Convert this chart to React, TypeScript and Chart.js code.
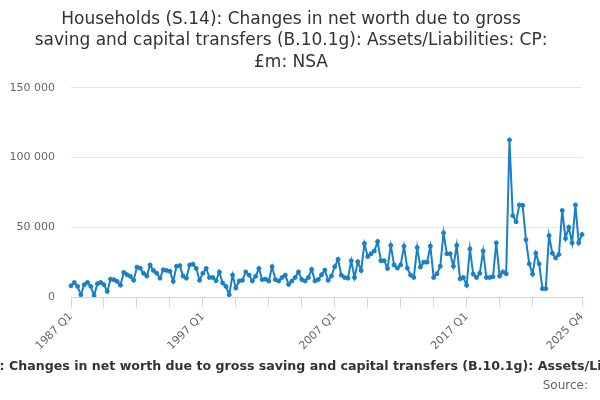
import { useEffect, useRef } from 'react';
import { Chart, registerables } from 'chart.js';

Chart.register(...registerables);

const firstYear = 1987;
const lastYear = 2025;
const quarters = ['Q1', 'Q2', 'Q3', 'Q4'];

const labels: string[] = [];
for (let y = firstYear; y <= lastYear; y++) {
  for (const q of quarters) labels.push(`${y} ${q}`);
}

// £m, quarterly, 1987 Q1 .. 2025 Q4
const netWorthChange = [
  8000, 10400, 7600, 1600,
  8800, 10400, 7600, 1000,
  9500, 10400, 8800, 4000,
  12800, 12400, 11200, 8500,
  17600, 16000, 14800, 12000,
  21400, 20700, 17000, 15000,
  23000, 19000, 17000, 13500,
  19500, 19000, 18500, 11200,
  22000, 22500, 15000, 13500,
  23000, 23500, 20500, 12000,
  17000, 20500, 14000, 14000,
  11700, 18000, 10000, 7600,
  1700, 15700, 6400, 11500,
  12000, 18000, 15700, 11500,
  14800, 20500, 12500, 12800,
  11500, 21700, 12500, 11500,
  14000, 15700, 9000, 11500,
  14000, 18000, 12500, 11500,
  14000, 19800, 11500, 12500,
  16000, 19300, 12000, 15000,
  21700, 27000, 15700, 14000,
  13500, 26000, 14000, 25300,
  19000, 38300, 29000, 31000,
  33000, 39700, 26000, 26000,
  20500, 37000, 23000, 20700,
  23000, 36400, 20700, 15700,
  14000, 35500, 21500, 25000,
  25000, 36400, 14000, 16700,
  22000, 46000, 31000, 31000,
  22000, 37000, 13000, 14000,
  8400, 34500, 16400, 14000,
  17000, 32900, 14000, 14000,
  14500, 38800, 15000, 18000,
  16600, 112600, 58300, 54000,
  66000, 65700, 41000, 23800,
  16400, 31400, 23800, 6000,
  6000, 44000, 31400, 28000,
  30500, 62000, 42000, 50000,
  38800, 66000, 38800, 44800,
];

const xTickIndexes = [0, 10, 20, 30, 40, 50, 60, 70, 80, 90, 100, 110, 120, 130, 140, 155];
const xLabelIndexes = [0, 40, 80, 120, 155];
const yMax = 150000;
const yStep = 50000;

const titleLines = [
  'Households (S.14): Changes in net worth due to gross',
  'saving and capital transfers (B.10.1g): Assets/Liabilities: CP:',
  '£m: NSA',
];
const caption =
  'Households (S.14): Changes in net worth due to gross saving and capital transfers (B.10.1g): Assets/Liabilities: CP: £m: NSA';
const source = 'Source:';

const FONT = '"DejaVu Sans", Verdana, sans-serif';

const captionPlugin = {
  id: 'caption',
  afterDraw(chart: any) {
    const { ctx } = chart;
    ctx.save();
    ctx.textBaseline = 'middle';
    ctx.font = `bold 12.6px ${FONT}`;
    ctx.fillStyle = '#333333';
    ctx.textAlign = 'center';
    ctx.fillText(caption, chart.width / 2 + 13, chart.height - 33);
    ctx.font = `12px ${FONT}`;
    ctx.fillStyle = '#666666';
    ctx.textAlign = 'right';
    ctx.fillText(source, chart.width - 12, chart.height - 14);
    ctx.restore();
  },
};

const spaced = (v: number) => String(v).replace(/\B(?=(\d{3})+(?!\d))/g, ' ');

function NetWorthChart() {
  const canvasRef = useRef<HTMLCanvasElement>(null);

  useEffect(() => {
    if (!canvasRef.current) return;

    const chart = new Chart(canvasRef.current, {
      type: 'line',
      data: {
        labels,
        datasets: [
          {
            data: netWorthChange,
            borderColor: '#1a80c6',
            backgroundColor: '#1a80c6',
            borderWidth: 2,
            pointRadius: 2,
            pointBorderWidth: 1,
            tension: 0,
          },
        ],
      },
      options: {
        animation: false,
        responsive: true,
        maintainAspectRatio: false,
        layout: { padding: { left: 0, right: 18, top: 0, bottom: 48 } },
        plugins: {
          legend: { display: false },
          tooltip: { enabled: false },
          title: {
            display: true,
            text: titleLines,
            color: '#333333',
            font: { family: FONT, size: 17, weight: 'normal', lineHeight: 1.25 },
            padding: { top: 9, bottom: 15 },
          },
        },
        scales: {
          x: {
            type: 'category',
            offset: false,
            afterBuildTicks: (scale: any) => {
              scale.ticks = xTickIndexes.map((v) => ({ value: v }));
            },
            afterFit: (scale: any) => {
              scale.height = 55;
            },
            grid: {
              drawOnChartArea: false,
              tickLength: 10,
              tickColor: '#ccd6eb',
            },
            border: { color: '#ccd6eb' },
            ticks: {
              autoSkip: false,
              minRotation: 45,
              maxRotation: 45,
              color: '#666666',
              font: { family: FONT, size: 11 },
              callback: (value: any) => (xLabelIndexes.includes(Number(value)) ? labels[Number(value)] : ''),
            },
          },
          y: {
            min: 0,
            max: yMax,
            afterFit: (scale: any) => {
              scale.width = 71;
            },
            grid: { color: '#e6e6e6', drawTicks: false },
            border: { display: false },
            ticks: {
              stepSize: yStep,
              padding: 16,
              color: '#666666',
              font: { family: FONT, size: 11 },
              callback: (value: any) => spaced(Number(value)),
            },
          },
        },
      },
      plugins: [captionPlugin],
    });

    return () => chart.destroy();
  }, []);

  return (
    <div style={{ position: 'absolute', left: 0, top: 0, width: 600, height: 400 }}>
      <canvas ref={canvasRef} />
    </div>
  );
}

export default function App() {
  return <NetWorthChart />;
}
